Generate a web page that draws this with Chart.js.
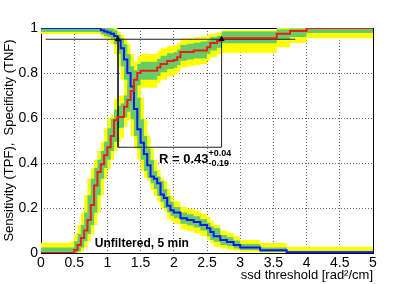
<!DOCTYPE html>
<html>
<head>
<meta charset="utf-8">
<script src="https://cdn.jsdelivr.net/npm/chart.js@4.4.1/dist/chart.umd.min.js"></script>
<style>
  html, body { margin: 0; padding: 0; background: #fff; }
  canvas { display: block; }
</style>
</head>
<body>
<canvas id="roc" width="415" height="284"></canvas>
<script>
// === Specificity (TNF), blue ===
const blueX = [0, 0.85, 0.9, 0.95, 1.0, 1.05, 1.1, 1.15, 1.2, 1.25, 1.3, 1.35, 1.4, 1.45, 1.5, 1.55, 1.6, 1.65, 1.7, 1.75, 1.8, 1.85, 1.9, 1.95, 2.0, 2.1, 2.2, 2.3, 2.4, 2.5, 2.55, 2.6, 2.7, 2.8, 2.9, 3.0, 3.3, 3.7, 5.0];
const blueY = [1, 1, 0.99, 0.985, 0.98, 0.975, 0.965, 0.945, 0.91, 0.86, 0.8, 0.74, 0.64, 0.55, 0.49, 0.44, 0.39, 0.34, 0.33, 0.31, 0.26, 0.245, 0.21, 0.19, 0.18, 0.155, 0.147, 0.138, 0.125, 0.11, 0.093, 0.075, 0.058, 0.049, 0.036, 0.024, 0.012, 0.003, 0.003];
const blueGreenHi = [1, 1, 1, 1, 1, 0.997, 0.99, 0.97, 0.955, 0.928, 0.885, 0.83, 0.77, 0.69, 0.595, 0.52, 0.465, 0.415, 0.365, 0.34, 0.32, 0.285, 0.253, 0.228, 0.205, 0.18, 0.172, 0.163, 0.15, 0.135, 0.118, 0.11, 0.08, 0.07, 0.056, 0.04, 0.024, 0.01, 0.01];
const blueGreenLo = [0.982, 0.982, 0.972, 0.965, 0.96, 0.953, 0.928, 0.885, 0.83, 0.77, 0.69, 0.595, 0.52, 0.465, 0.415, 0.365, 0.335, 0.31, 0.285, 0.253, 0.228, 0.2, 0.18, 0.165, 0.155, 0.13, 0.122, 0.113, 0.1, 0.075, 0.058, 0.05, 0.036, 0.03, 0.02, 0.013, 0.005, 0, 0];
const blueYellowHi = [1, 1, 1, 1, 1, 1, 1, 0.985, 0.97, 0.955, 0.928, 0.885, 0.83, 0.77, 0.69, 0.595, 0.52, 0.465, 0.415, 0.37, 0.335, 0.32, 0.285, 0.253, 0.23, 0.205, 0.197, 0.188, 0.175, 0.16, 0.143, 0.125, 0.1, 0.09, 0.075, 0.058, 0.044, 0.028, 0.028];
const blueYellowLo = [0.973, 0.973, 0.963, 0.955, 0.945, 0.928, 0.885, 0.83, 0.77, 0.69, 0.595, 0.52, 0.465, 0.415, 0.365, 0.335, 0.32, 0.28, 0.253, 0.228, 0.2, 0.185, 0.15, 0.14, 0.13, 0.105, 0.097, 0.088, 0.075, 0.058, 0.043, 0.028, 0.02, 0.015, 0.01, 0.006, 0, 0, 0];

// === Sensitivity (TPF), red ===
const redX = [0, 0.4, 0.45, 0.5, 0.55, 0.6, 0.65, 0.7, 0.75, 0.8, 0.85, 0.9, 0.95, 1.0, 1.05, 1.1, 1.15, 1.2, 1.25, 1.3, 1.35, 1.4, 1.45, 1.5, 1.55, 1.6, 1.65, 1.7, 1.75, 1.8, 1.85, 1.9, 1.95, 2.0, 2.05, 2.1, 2.2, 2.3, 2.4, 2.5, 2.55, 2.65, 2.72, 3.55, 3.75, 4.0, 5.0];
const redY = [0, 0, 0, 0.013, 0.036, 0.067, 0.1, 0.147, 0.213, 0.3, 0.36, 0.395, 0.435, 0.47, 0.52, 0.59, 0.605, 0.605, 0.65, 0.68, 0.72, 0.77, 0.8, 0.81, 0.81, 0.81, 0.81, 0.81, 0.825, 0.84, 0.84, 0.853, 0.853, 0.858, 0.87, 0.893, 0.893, 0.9, 0.9, 0.915, 0.933, 0.942, 0.955, 0.975, 0.987, 1, 1];
const redGreenHi = [0.025, 0.025, 0.025, 0.052, 0.084, 0.124, 0.18, 0.257, 0.33, 0.378, 0.415, 0.453, 0.495, 0.555, 0.598, 0.638, 0.653, 0.665, 0.7, 0.745, 0.785, 0.812, 0.84, 0.85, 0.85, 0.85, 0.85, 0.85, 0.863, 0.877, 0.877, 0.888, 0.888, 0.893, 0.904, 0.924, 0.93, 0.935, 0.94, 0.945, 0.96, 0.965, 0.984, 0.995, 0.998, 1, 1];
const redGreenLo = [0, 0, 0, 0, 0.007, 0.025, 0.052, 0.084, 0.124, 0.18, 0.257, 0.33, 0.378, 0.415, 0.453, 0.495, 0.555, 0.557, 0.603, 0.628, 0.665, 0.7, 0.745, 0.77, 0.77, 0.77, 0.77, 0.77, 0.787, 0.803, 0.803, 0.818, 0.818, 0.823, 0.836, 0.855, 0.86, 0.865, 0.865, 0.885, 0.9, 0.912, 0.932, 0.947, 0.96, 0.978, 0.978];
const redYellowHi = [0.046, 0.046, 0.052, 0.084, 0.124, 0.18, 0.257, 0.33, 0.378, 0.415, 0.453, 0.495, 0.555, 0.598, 0.615, 0.683, 0.698, 0.7, 0.745, 0.785, 0.805, 0.85, 0.875, 0.885, 0.885, 0.885, 0.885, 0.885, 0.897, 0.91, 0.91, 0.92, 0.92, 0.924, 0.934, 0.952, 0.955, 0.96, 0.962, 0.97, 0.975, 0.98, 0.99, 1, 1, 1, 1];
const redYellowLo = [0, 0, 0, 0, 0, 0.007, 0.025, 0.052, 0.084, 0.124, 0.18, 0.257, 0.33, 0.375, 0.415, 0.453, 0.495, 0.512, 0.56, 0.59, 0.628, 0.665, 0.7, 0.735, 0.735, 0.735, 0.735, 0.735, 0.753, 0.77, 0.77, 0.786, 0.786, 0.792, 0.806, 0.825, 0.83, 0.835, 0.84, 0.855, 0.87, 0.885, 0.89, 0.915, 0.933, 0.955, 0.955];

// === working point lines and markers ===
const cutLineX = [0.07, 3.83];
const cutLineY = [0.95, 0.95];
const boxX = [1.16, 1.16, 2.72, 2.72];
const boxY = [0.95, 0.47, 0.47, 0.95];
const markerX = [1.16, 2.72];
const markerY = [0.95, 0.95];

// === axes ===
const xTickStep = 0.5;
const yTickStep = 0.2;

const FONT = "'Liberation Sans', Arial, Helvetica, sans-serif";
const GREEN = "#66cc66";
const YELLOW = "#ffff00";

function pts(xs, ys) {
  return xs.map((x, i) => ({ x: x, y: ys[i] }));
}

function band(xs, ys, color, fill, order) {
  return {
    data: pts(xs, ys),
    stepped: true,
    borderWidth: 0,
    pointRadius: 0,
    backgroundColor: color,
    fill: fill,
    order: order,
  };
}

// ROOT style labels: 0, 0.5, 1, ... (no trailing zeros)
const plainTick = (v) => String(Number(v.toFixed(2)));

const framePlugin = {
  id: "frame",
  beforeDatasetsDraw(chart) {
    const { ctx, chartArea: a } = chart;
    ctx.save();
    ctx.strokeStyle = "#000";
    ctx.lineWidth = 1;
    ctx.strokeRect(Math.round(a.left) + 0.5, Math.round(a.top) + 0.5,
      Math.round(a.right - a.left), Math.round(a.bottom - a.top));
    ctx.restore();
  },
  afterDatasetsDraw(chart) {
    const { ctx, scales } = chart;
    const px = (v) => scales.x.getPixelForValue(v);
    const py = (v) => scales.y.getPixelForValue(v);
    ctx.save();
    ctx.fillStyle = "#000";
    ctx.textBaseline = "alphabetic";
    ctx.textAlign = "left";

    ctx.font = "bold 12px " + FONT;
    ctx.fillText("Unfiltered, 5 min", px(0.81), py(0.027));

    ctx.font = "bold 13px " + FONT;
    const rx = px(1.777), ry = py(0.4);
    ctx.fillText("R = 0.43", rx, ry);
    const w = ctx.measureText("R = 0.43").width;
    ctx.font = "bold 9px " + FONT;
    ctx.fillText("+0.04", rx + w, ry - 7);
    ctx.fillText("-0.19", rx + w, ry + 3);
    ctx.restore();
  },
};

new Chart(document.getElementById("roc"), {
  type: "line",
  data: {
    datasets: [
      band(blueX, blueYellowLo, YELLOW, false, 20),
      band(blueX, blueYellowHi, YELLOW, "-1", 20),
      band(redX, redYellowLo, YELLOW, false, 19),
      band(redX, redYellowHi, YELLOW, "-1", 19),
      band(blueX, blueGreenLo, GREEN, false, 18),
      band(blueX, blueGreenHi, GREEN, "-1", 18),
      band(redX, redGreenLo, GREEN, false, 17),
      band(redX, redGreenHi, GREEN, "-1", 17),
      {
        data: pts(cutLineX, cutLineY),
        borderColor: "#222",
        borderWidth: 1,
        pointRadius: 0,
        order: 5,
      },
      {
        data: pts(boxX, boxY),
        borderColor: "#222",
        borderWidth: 1,
        pointRadius: 0,
        order: 5,
      },
      {
        label: "Specificity (TNF)",
        data: pts(blueX, blueY),
        stepped: true,
        borderColor: "#1414f0",
        borderWidth: 2,
        pointRadius: 0,
        order: 2,
      },
      {
        label: "Sensitivity (TPF)",
        data: pts(redX, redY),
        stepped: true,
        borderColor: "#ee1c1c",
        borderWidth: 2,
        pointRadius: 0,
        order: 1,
      },
      {
        data: pts(markerX, markerY),
        showLine: false,
        pointStyle: "triangle",
        pointRadius: 3.5,
        backgroundColor: "#000",
        borderColor: "#000",
        borderWidth: 0,
        order: 0,
      },
    ],
  },
  options: {
    responsive: false,
    animation: false,
    devicePixelRatio: 1,
    layout: { padding: { left: 0, right: 42, top: 28, bottom: 0 } },
    plugins: {
      legend: { display: false },
      tooltip: { enabled: false },
    },
    scales: {
      x: {
        type: "linear",
        min: 0,
        max: 5,
        afterFit: (s) => { s.height = 31; },
        ticks: { stepSize: xTickStep, color: "#000", font: { family: FONT, size: 14 }, padding: 2, maxRotation: 0, callback: plainTick },
        grid: { color: "#666", lineWidth: 1, drawTicks: false },
        border: { display: false, dash: [1, 2] },
        title: {
          display: true,
          text: "ssd threshold [rad\u00b2/cm]",
          align: "end",
          color: "#000",
          font: { family: FONT, size: 13 },
          padding: { top: 0, bottom: 1 },
        },
      },
      y: {
        min: 0,
        max: 1,
        afterFit: (s) => { s.width = 41; },
        ticks: { stepSize: yTickStep, color: "#000", font: { family: FONT, size: 14 }, padding: 3, callback: plainTick },
        grid: { color: "#666", lineWidth: 1, drawTicks: false },
        border: { display: false, dash: [1, 2] },
        title: {
          display: true,
          text: "Sensitivity (TPF),  Specificity (TNF)",
          color: "#000",
          font: { family: FONT, size: 13 },
          padding: { top: 2, bottom: 0 },
        },
      },
    },
  },
  plugins: [framePlugin],
});
</script>
</body>
</html>
